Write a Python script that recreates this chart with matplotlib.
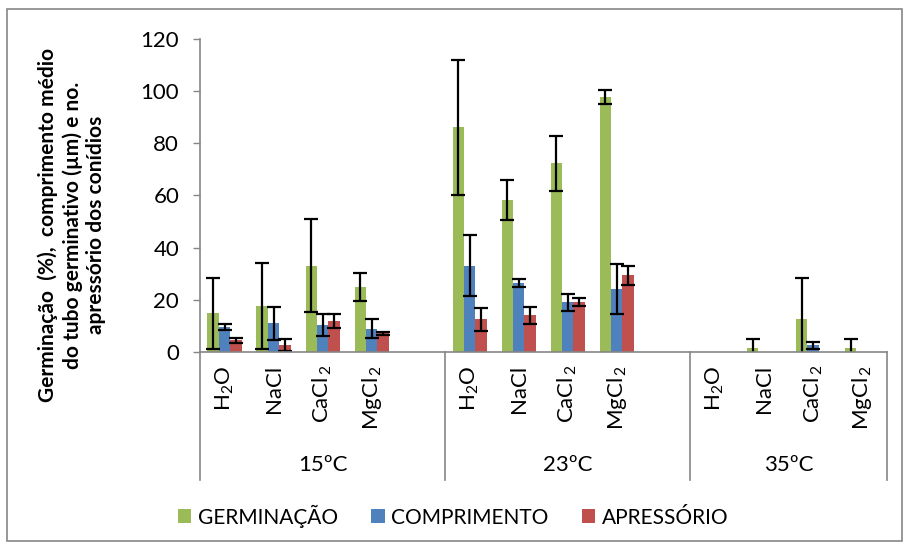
import numpy as np
import matplotlib.pyplot as plt
from matplotlib.patches import Rectangle
import matplotlib.transforms as mtransforms

plt.rcParams['font.family'] = ['Lato', 'DejaVu Sans']
plt.rcParams['mathtext.fontset'] = 'custom'
plt.rcParams['mathtext.rm'] = 'Lato'
plt.rcParams['mathtext.it'] = 'Lato'
plt.rcParams['mathtext.default'] = 'regular'

# categories and groups
salts = ['H$_2$O', 'NaCl', 'CaCl$_{\\,2}$', 'MgCl$_{\\,2}$']
temps = ['15ºC', '23ºC', '35ºC']
series = ['GERMINAÇÃO', 'COMPRIMENTO', 'APRESSÓRIO']

# values per temperature (H2O, NaCl, CaCl2, MgCl2)
germ_15 = [14.8, 17.7, 33.0, 24.9]
germ_23 = [86.0, 58.3, 72.2, 97.6]
germ_35 = [0.0, 1.7, 12.6, 1.7]
germ_err_15 = [13.5, 16.4, 17.8, 5.3]
germ_err_23 = [26.0, 7.6, 10.6, 2.8]
germ_err_35 = [0.0, 3.3, 15.7, 3.3]

comp_15 = [9.6, 11.0, 10.4, 8.9]
comp_23 = [33.0, 26.3, 19.1, 24.1]
comp_35 = [0.0, 0.0, 2.5, 0.0]
comp_err_15 = [1.2, 6.3, 4.3, 3.7]
comp_err_23 = [11.7, 1.5, 3.3, 9.5]
comp_err_35 = [0.0, 0.0, 1.4, 0.0]

apr_15 = [4.5, 2.6, 11.8, 7.1]
apr_23 = [12.6, 14.1, 19.1, 29.4]
apr_35 = [0.0, 0.0, 0.0, 0.0]
apr_err_15 = [0.9, 2.2, 2.6, 0.5]
apr_err_23 = [4.4, 3.3, 1.5, 3.6]
apr_err_35 = [0.0, 0.0, 0.0, 0.0]

colors = ['#9BBB59', '#4F81BD', '#C0504D']
axis_gray = '#868686'

# category slots: 5 per group for 15 and 23 (last one empty), 4 for 35
x = np.array([0, 1, 2, 3, 5, 6, 7, 8, 10, 11, 12, 13], dtype=float)
group_edges = [-0.5, 4.5, 9.5, 13.5]

data = [
    (germ_15 + germ_23 + germ_35, germ_err_15 + germ_err_23 + germ_err_35),
    (comp_15 + comp_23 + comp_35, comp_err_15 + comp_err_23 + comp_err_35),
    (apr_15 + apr_23 + apr_35, apr_err_15 + apr_err_23 + apr_err_35),
]

W, H = 906, 548
fig = plt.figure(figsize=(W / 100, H / 100), dpi=100)
ax = fig.add_axes([200 / W, 1 - 352 / H, (886.5 - 200) / W, (352 - 38.7) / H])

bw = 0.232
handles = []
for i, (vals, errs) in enumerate(data):
    vals = np.array(vals)
    errs = np.array(errs)
    xs = x + (i - 1) * bw
    b = ax.bar(xs, vals, width=bw, color=colors[i], edgecolor='none', label=series[i])
    handles.append(b)
    m = errs > 0
    ax.errorbar(xs[m], vals[m], yerr=errs[m], fmt='none', ecolor='black',
                elinewidth=1.6, capsize=5, capthick=1.6)

ax.set_xlim(-0.5, 13.5)
ax.set_ylim(0, 120)
ax.set_yticks(range(0, 121, 20))
ax.set_xticks([])
ax.tick_params(axis='y', direction='out', length=5, width=1, color=axis_gray,
               labelsize=16, pad=10)
for s in ['top', 'right']:
    ax.spines[s].set_visible(False)
for s in ['left', 'bottom']:
    ax.spines[s].set_color(axis_gray)
    ax.spines[s].set_linewidth(1.2)

# multi-level category axis below the plot
trans = mtransforms.blended_transform_factory(ax.transData, ax.transAxes)
ah = 352 - 38.7
for xe in group_edges:
    ax.plot([xe, xe], [0, -128 / ah], transform=trans, color=axis_gray,
            lw=1.2, clip_on=False)
for xi, lab in zip(x, salts * 3):
    ax.text(xi, -13 / ah, lab, transform=trans, rotation=90, ha='center',
            va='top', fontsize=16)
for j, t in enumerate(temps):
    xc = (group_edges[j] + group_edges[j + 1]) / 2
    ax.text(xc, -113 / ah, t, transform=trans, ha='center', va='center',
            fontsize=16)

fig.text(72 / W, 1 - 225 / H,
         'Germinação  (%),  comprimento médio\ndo tubo germinativo (µm) e no.\napressório dos conídios',
         rotation=90, ha='center', va='center', multialignment='center',
         fontsize=15, fontweight='bold', linespacing=1.22)

fig.legend(handles=handles, labels=series, loc='center', ncol=3,
           bbox_to_anchor=(0.5, 1 - 516 / H), frameon=False, fontsize=15,
           handlelength=0.65, handleheight=0.65, handletextpad=0.3,
           columnspacing=1.6)

fig.patches.append(Rectangle((7 / W, 1 - 541 / H), (902 - 7) / W, (541 - 9) / H,
                             transform=fig.transFigure, fill=False,
                             edgecolor=axis_gray, lw=1.2))

fig.savefig('out.png', dpi=100)
